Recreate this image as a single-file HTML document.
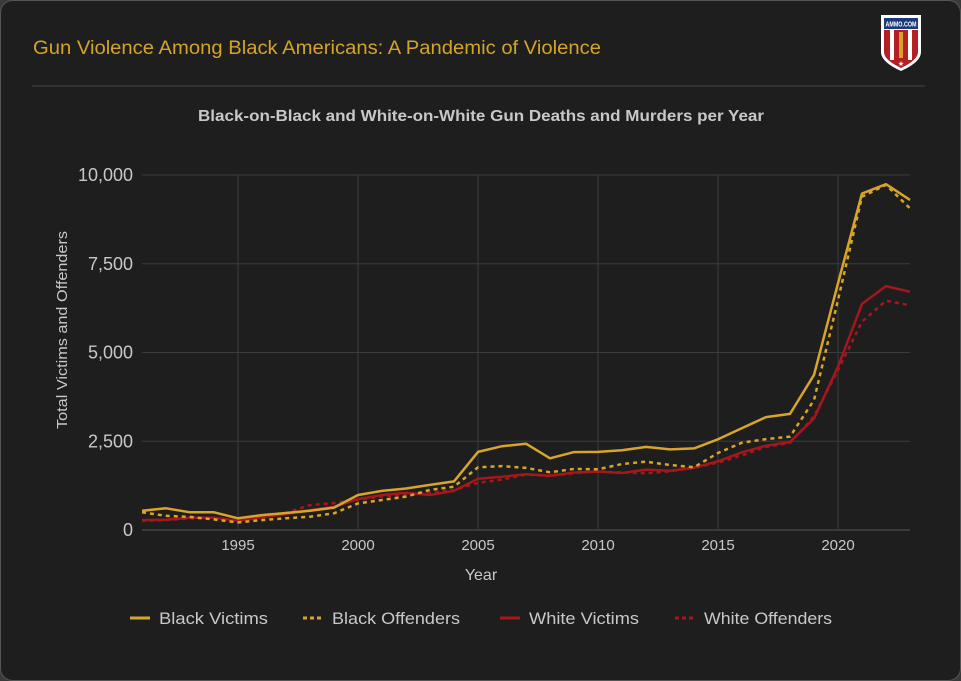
<!DOCTYPE html>
<html><head><meta charset="utf-8"><style>
body{margin:0;background:#3a3a3a;}
svg{display:block;font-family:"Liberation Sans",sans-serif;}
</style></head><body>
<svg width="961" height="681" viewBox="0 0 961 681">
<rect x="0.5" y="0.5" width="960" height="680" rx="12" fill="#1e1e1e" stroke="#555"/>
<text x="33" y="54" fill="#d4a426" font-size="19" textLength="568" lengthAdjust="spacingAndGlyphs">Gun Violence Among Black Americans: A Pandemic of Violence</text>
<line x1="32" y1="86" x2="925" y2="86" stroke="#444"/>
<g>
<path d="M881 15 H921 V52 Q921 62 901 71 Q881 62 881 52 Z" fill="#fff"/>
<rect x="884" y="18" width="34" height="11" fill="#1c3a7a"/>
<text x="901" y="26.5" fill="#fff" font-size="7" font-weight="bold" text-anchor="middle" textLength="31" lengthAdjust="spacingAndGlyphs">AMMO.COM</text>
<path d="M884 30 H918 V52 Q918 60 901 68 Q884 60 884 52 Z" fill="#b51f24"/>
<rect x="890" y="30" width="4" height="30" fill="#fff"/><rect x="908" y="30" width="4" height="30" fill="#fff"/>
<rect x="899" y="32" width="4" height="26" fill="#d4a426"/>
<text x="901" y="66" fill="#fff" font-size="7" text-anchor="middle">★</text>
</g>
<text x="481" y="121" fill="#c8c8c8" font-size="16" font-weight="bold" text-anchor="middle" textLength="566" lengthAdjust="spacingAndGlyphs">Black-on-Black and White-on-White Gun Deaths and Murders per Year</text>
<g id="grid"></g>
<g id="series"></g>
<text transform="translate(67,330) rotate(-90)" fill="#c8c8c8" font-size="15" text-anchor="middle" textLength="198" lengthAdjust="spacingAndGlyphs">Total Victims and Offenders</text>
<text x="481" y="580" fill="#c8c8c8" font-size="16" text-anchor="middle">Year</text>
<g id="legend"></g>
</svg>
<script>
const years=[];for(let y=1991;y<=2023;y++)years.push(y);
const blackVictims=[545,610,500,500,330,420,480,545,630,985,1100,1170,1270,1370,2200,2360,2430,2020,2195,2200,2245,2340,2270,2300,2555,2870,3180,3270,4370,6950,9480,9740,9300];
const blackOffenders=[500,400,370,300,215,280,330,375,470,750,845,940,1130,1220,1765,1800,1750,1625,1720,1710,1860,1925,1830,1765,2170,2460,2560,2630,3660,6480,9390,9720,9060];
const whiteVictims=[280,290,345,345,260,355,450,560,655,870,985,1050,985,1100,1445,1500,1570,1530,1620,1645,1605,1700,1670,1755,1935,2190,2375,2480,3140,4600,6370,6870,6710];
const whiteOffenders=[260,280,330,330,240,370,480,700,760,850,950,1000,1050,1120,1330,1420,1560,1520,1600,1650,1620,1600,1650,1750,1900,2100,2340,2450,3200,4500,5870,6460,6330];
const yTicks=[0,2500,5000,7500,10000];
const yTickLabels=["0","2,500","5,000","7,500","10,000"];
const xTicks=[1995,2000,2005,2010,2015,2020];
const NS="http://www.w3.org/2000/svg";
const X0=142,X1=910,Y0=530,Y1=175;
const xs=y=>X0+(y-1991)*(X1-X0)/(2023-1991);
const ys=v=>Y0-v*(Y0-Y1)/10000;
function mk(t,a,p){const e=document.createElementNS(NS,t);for(const k in a)e.setAttribute(k,a[k]);p.appendChild(e);return e;}
const grid=document.getElementById('grid');
yTicks.forEach((v,i)=>{
 const l=mk('line',{x1:X0,x2:X1,y1:ys(v),y2:ys(v),stroke:v===0?'#555':'#3c3c3c','stroke-width':1},grid);
 
 
 const t=mk('text',{x:133,y:ys(v)+6,fill:'#c8c8c8','font-size':18,'text-anchor':'end'},grid);
 t.textContent=yTickLabels[i];
 
 
});
xTicks.forEach(y=>{
 const l=mk('line',{x1:xs(y),x2:xs(y),y1:Y1,y2:Y0,stroke:'#3c3c3c'},grid);
 
 
 const t=mk('text',{x:xs(y),y:Y0+20,fill:'#c8c8c8','font-size':15,'text-anchor':'middle'},grid);
 t.textContent=y;
 
 
});
const GOLD='#d7a52a',RED='#a5161d';
const series=[
 {d:blackVictims,c:GOLD,dash:null,n:'Black Victims',id:'black-victims',w:109},
 {d:blackOffenders,c:GOLD,dash:'4,4',n:'Black Offenders',id:'black-offenders',w:128},
 {d:whiteVictims,c:RED,dash:null,n:'White Victims',id:'white-victims',w:110},
 {d:whiteOffenders,c:RED,dash:'4,4',n:'White Offenders',id:'white-offenders',w:128}];
const sg=document.getElementById('series');
[3,2,1,0].forEach(i=>{const s=series[i];
 const pts=s.d.map((v,j)=>xs(years[j]).toFixed(1)+','+ys(v).toFixed(1)).join(' ');
 const a={points:pts,fill:'none',stroke:s.c,'stroke-width':2.5,'stroke-linejoin':'round'};
 if(s.dash)a['stroke-dasharray']=s.dash;
 const p=mk('polyline',a,sg);
 
 
});
const lg=document.getElementById('legend');
const lx=[130,303,500,675];
series.forEach((s,i)=>{
 const g=mk('g',{},lg);
 
 
 const a={x1:lx[i],x2:lx[i]+20,y1:618,y2:618,stroke:s.c,'stroke-width':3};
 if(s.dash)a['stroke-dasharray']='4,3';
 mk('line',a,g);
 const t=mk('text',{x:lx[i]+29,y:624,fill:'#c8c8c8','font-size':17,textLength:s.w,lengthAdjust:'spacingAndGlyphs'},g);
 t.textContent=s.n;
});
</script>
</body></html>
